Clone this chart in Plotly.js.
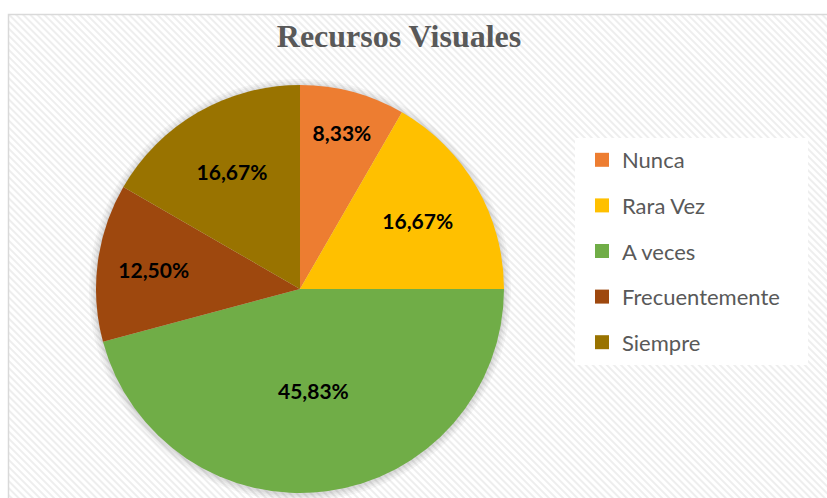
<!DOCTYPE html>
<html>
<head>
<meta charset="utf-8">
<script src="https://cdn.plot.ly/plotly-3.0.1.min.js"></script>
<style>html,body{margin:0;padding:0;background:#fff}#chart{width:827px;height:498px}</style>
</head>
<body>
<div id="chart"></div>
<script>
const categories = ["Nunca", "Rara Vez", "A veces", "Frecuentemente", "Siempre"];
const percentages = [8.33, 16.67, 45.83, 12.50, 16.67];
const colors = ["#ED7D31", "#FFC000", "#70AD47", "#9E480E", "#997300"];
const chartTitle = "Recursos Visuales";

const W = 827, H = 498;
const svg = '<svg xmlns="http://www.w3.org/2000/svg" width="' + W + '" height="' + H + '">' +
  '<defs><pattern id="p" width="5" height="5" patternUnits="userSpaceOnUse" patternTransform="rotate(-45)">' +
  '<rect width="5" height="5" fill="#ffffff"/><rect width="2" height="5" fill="#eeeeee"/></pattern></defs>' +
  '<rect x="8.5" y="14.5" width="830" height="500" fill="url(#p)" stroke="#d9d9d9" stroke-width="1.5"/></svg>';
const bgSrc = 'data:image/svg+xml;charset=utf-8,' + encodeURIComponent(svg);

// pie geometry (pixels)
const cx = 300, cy = 289, R = 204;

const pieTrace = {
  type: 'pie',
  labels: categories,
  values: percentages,
  marker: {colors: colors, line: {width: 0}},
  sort: false,
  direction: 'clockwise',
  rotation: 0,
  textinfo: 'percent',
  texttemplate: '%{percent:.2%}',
  textposition: 'inside',
  insidetextorientation: 'horizontal',
  textfont: {family: 'Lato, "Open Sans", sans-serif', size: 21, color: '#000000', weight: 'bold'},
  showlegend: false,
  hoverinfo: 'label+percent',
  domain: {x: [(cx - R) / W, (cx + R) / W], y: [1 - (cy + R) / H, 1 - (cy - R) / H]}
};

const legendTraces = categories.map((c, i) => ({
  type: 'scatter',
  mode: 'markers',
  x: [-10], y: [-10],
  name: c,
  legendgroup: 'g' + i,
  marker: {symbol: 'square', size: 14, color: colors[i]},
  hoverinfo: 'skip'
}));

const shadowShapes = [7, 5, 3, 1.5].map(d => ({
  type: 'circle', xref: 'paper', yref: 'paper', layer: 'below',
  x0: (cx - R - d) / W, x1: (cx + R + d) / W,
  y0: 1 - (cy + R + d + 1) / H, y1: 1 - (cy - R - d + 1) / H,
  fillcolor: 'rgba(0,0,0,0.035)', line: {width: 0}
}));

const layout = {
  width: W, height: H,
  margin: {l: 0, r: 0, t: 0, b: 0},
  paper_bgcolor: '#ffffff',
  plot_bgcolor: 'rgba(0,0,0,0)',
  separators: ', ',
  title: {
    text: '<b>' + chartTitle + '</b>',
    font: {family: '"Liberation Serif", "Times New Roman", serif', size: 32, color: '#595959'},
    x: 399 / W, xanchor: 'center',
    y: 1 - 36 / H, yanchor: 'middle'
  },
  xaxis: {visible: false, range: [0, 1], fixedrange: true},
  yaxis: {visible: false, range: [0, 1], fixedrange: true},
  showlegend: true,
  legend: {
    x: 582 / W, xanchor: 'left',
    y: 1 - 139 / H, yanchor: 'top',
    bgcolor: 'rgba(0,0,0,0)',
    font: {family: 'Lato, "Open Sans", sans-serif', size: 22, color: '#595959'},
    tracegroupgap: 14,
    itemwidth: 30
  },
  shapes: shadowShapes.concat([{
    type: 'rect', xref: 'paper', yref: 'paper', layer: 'below',
    x0: 575 / W, x1: 808 / W, y0: 1 - 365 / H, y1: 1 - 138 / H,
    fillcolor: '#ffffff', line: {width: 0}
  }]),
  images: [{
    source: bgSrc, xref: 'paper', yref: 'paper', x: 0, y: 1,
    sizex: 1, sizey: 1, sizing: 'stretch', layer: 'below',
    xanchor: 'left', yanchor: 'top'
  }]
};

Plotly.newPlot('chart', [pieTrace].concat(legendTraces), layout, {displayModeBar: false, staticPlot: true});
</script>
</body>
</html>
